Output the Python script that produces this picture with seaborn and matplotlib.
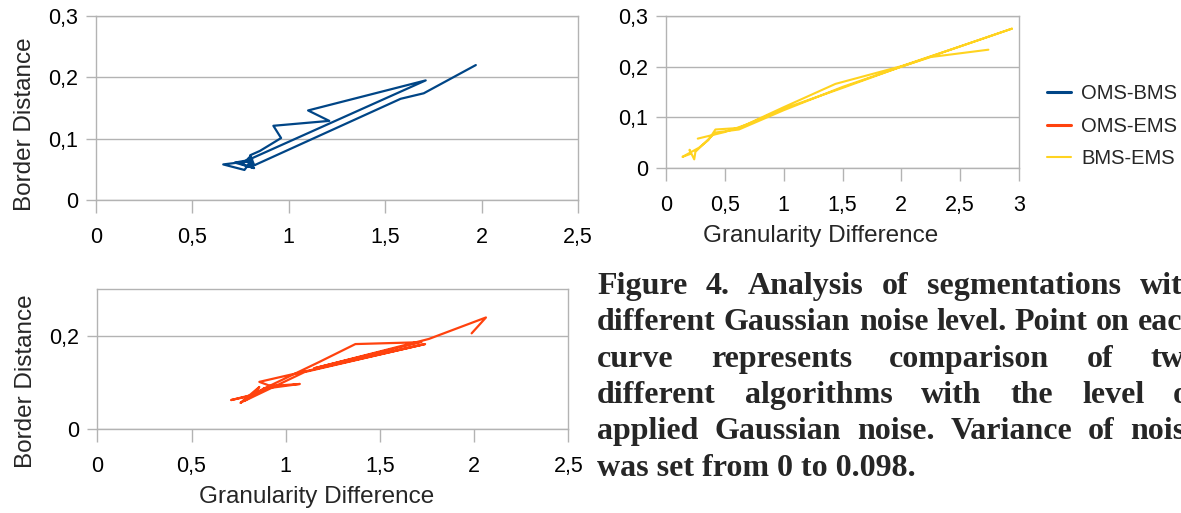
import pandas as pd
import matplotlib.pyplot as plt
import seaborn as sns
from matplotlib.ticker import FuncFormatter, MultipleLocator

# Granularity difference / border distance pairs, in noise-level order
oms_bms_x = [0.80, 0.76, 0.82, 0.72, 0.81, 0.77, 0.66, 0.79, 0.82, 0.80, 0.85,
             0.96, 0.92, 1.21, 1.10, 1.71, 0.78, 0.81, 1.58, 1.70, 1.97]
oms_bms_y = [0.071, 0.058, 0.052, 0.061, 0.066, 0.049, 0.058, 0.063, 0.057, 0.073, 0.080,
             0.101, 0.121, 0.129, 0.146, 0.195, 0.064, 0.055, 0.165, 0.174, 0.220]

oms_ems_x = [0.80, 0.71, 0.84, 0.80, 0.76, 0.86, 0.83, 0.90, 0.88, 1.075, 0.92, 0.86,
             1.13, 1.74, 1.10, 0.78, 0.83, 1.18, 1.37, 1.72, 1.45, 1.15, 1.76, 2.063, 1.987]
oms_ems_y = [0.070, 0.062, 0.075, 0.065, 0.056, 0.090, 0.075, 0.088, 0.086, 0.0965, 0.092, 0.101,
             0.126, 0.182, 0.122, 0.060, 0.076, 0.144, 0.182, 0.186, 0.160, 0.130, 0.193, 0.239, 0.205]

bms_ems_x = [0.27, 0.50, 0.70, 1.00, 1.50, 2.00, 2.50, 2.94, 2.50, 2.00, 1.44, 1.00, 0.62, 0.42,
             0.36, 0.28, 0.14, 0.21, 0.20, 0.24, 0.25, 0.42, 0.62, 1.00, 1.50, 2.00, 2.25, 2.74]
bms_ems_y = [0.058, 0.071, 0.087, 0.117, 0.158, 0.200, 0.240, 0.275, 0.240, 0.201, 0.166, 0.120, 0.079, 0.076,
             0.055, 0.040, 0.022, 0.028, 0.036, 0.017, 0.032, 0.070, 0.076, 0.114, 0.160, 0.200, 0.219, 0.2335]

series_names = ["OMS-BMS", "OMS-EMS", "BMS-EMS"]
series_colors = ["#004586", "#ff420e", "#ffd320"]

caption_lines = [
    "Figure 4. Analysis of segmentations with",
    "different Gaussian noise level. Point on each",
    "curve represents comparison of two",
    "different algorithms with the level of",
    "applied Gaussian noise. Variance of noise",
    "was set from 0 to 0.098.",
]

sns.set_style("white")
plt.rcParams["font.family"] = ["Liberation Sans", "DejaVu Sans"]

W, H = 1181, 513
fig = plt.figure(figsize=(W / 100, H / 100), dpi=100)


def px_axes(left, top, right, bottom):
    return fig.add_axes([left / W, 1 - bottom / H, (right - left) / W, (bottom - top) / H])


comma = FuncFormatter(lambda v, pos: f"{v:g}".replace(".", ","))


def style(ax, xmax, xstep, ystep):
    ax.set_xlim(0, xmax)
    ax.set_ylim(0, 0.3)
    ax.xaxis.set_major_locator(MultipleLocator(xstep))
    ax.yaxis.set_major_locator(MultipleLocator(ystep))
    ax.xaxis.set_major_formatter(comma)
    ax.yaxis.set_major_formatter(comma)
    ax.grid(axis="y", color="#b3b3b3", linewidth=1)
    ax.grid(axis="x", visible=False)
    for s in ax.spines.values():
        s.set_color("#b3b3b3")
        s.set_linewidth(1)
    ax.tick_params(axis="x", bottom=True, length=9, width=1, color="#b3b3b3",
                   pad=10.5, labelsize=15.5, labelcolor="black")
    ax.tick_params(axis="y", left=True, length=7, width=1, color="#b3b3b3",
                   pad=6, labelsize=15.5, labelcolor="black")
    ax.set_xlabel("")
    ax.set_ylabel("")


def draw(ax, xs, ys, color, lw=1.6):
    df = pd.DataFrame({"gran": xs, "border": ys})
    sns.lineplot(data=df, x="gran", y="border", sort=False, estimator=None,
                 color=color, linewidth=lw, ax=ax)


# top left: OMS-BMS
ax1 = px_axes(96, 16, 578, 200)
draw(ax1, oms_bms_x, oms_bms_y, series_colors[0])
style(ax1, 2.5, 0.5, 0.1)
ax1.set_ylabel("Border Distance", fontsize=17.5)
ax1.yaxis.set_label_coords(-0.124, 0.41)

# top right: BMS-EMS
ax2 = px_axes(666, 16, 1019, 168)
draw(ax2, bms_ems_x, bms_ems_y, series_colors[2], lw=1.5)
style(ax2, 3, 0.5, 0.1)
ax2.set_xlabel("Granularity Difference", fontsize=17.5)
ax2.xaxis.set_label_coords(0.439, -0.375)

# bottom: OMS-EMS
ax3 = px_axes(97.3, 289, 568.3, 429)
draw(ax3, oms_ems_x, oms_ems_y, series_colors[1])
style(ax3, 2.5, 0.5, 0.2)
ax3.set_ylabel("Border Distance", fontsize=17.5)
ax3.yaxis.set_label_coords(-0.129, 0.343)
ax3.set_xlabel("Granularity Difference", fontsize=17.5)
ax3.xaxis.set_label_coords(0.466, -0.407)

handles = [ax1.lines[0], ax3.lines[0], ax2.lines[0]]
leg = fig.legend(handles=handles, labels=series_names, loc="upper left",
                 bbox_to_anchor=(1047 / W, 1 - 84 / H), frameon=False, fontsize=14.5,
                 handlelength=1.2, handletextpad=0.5, labelspacing=0.68,
                 borderpad=0, borderaxespad=0)
for h in leg.legend_handles[:2]:
    h.set_linewidth(2.2)

# justified caption
renderer = fig.canvas.get_renderer()
cap_left, cap_right = 597, 1200
for i, line in enumerate(caption_lines):
    y = 1 - (294 + i * 36.3) / H
    kw = dict(fontfamily="Liberation Serif", fontweight="bold", fontsize=23, va="baseline")
    if i == len(caption_lines) - 1:
        fig.text(cap_left / W, y, line, **kw)
        continue
    words = line.split()
    texts = [fig.text(0, y, w, **kw) for w in words]
    widths = [t.get_window_extent(renderer).width for t in texts]
    gap = (cap_right - cap_left - sum(widths)) / (len(words) - 1)
    x = cap_left
    for t, w in zip(texts, widths):
        t.set_x(x / W)
        x += w + gap

fig.savefig("out.png", dpi=100)
